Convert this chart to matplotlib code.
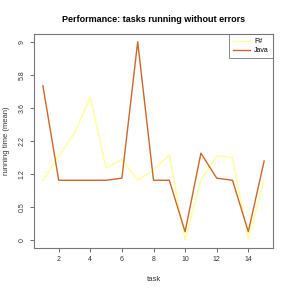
import matplotlib
matplotlib.use('Agg')
import matplotlib.pyplot as plt
import numpy as np

plt.rcParams['font.family'] = ['Liberation Sans', 'DejaVu Sans']

# Data (mean running time per task)
tasks = list(range(1, 16))
fsharp = [1.0, 1.65, 2.45, 4.25, 1.30, 1.55, 1.0, 1.25, 1.69, 0.0, 1.0, 1.66, 1.60, 0.01, 1.0]
java = [5.0, 1.0, 1.0, 1.0, 1.0, 1.05, 9.0, 1.0, 1.0, 0.10, 1.74, 1.05, 1.0, 0.10, 1.5]
ytick_labels = ['0', '0.5', '1.2', '2.2', '3.6', '5.8', '9']
xticks = [2, 4, 6, 8, 10, 12, 14]

fig = plt.figure(figsize=(2.91, 2.91), dpi=100)
ax = fig.add_axes([0.117, 0.148, 0.821, 0.735])

# y axis on a log(1 + x) scale, as in the original
ax.set_yscale('function', functions=(np.log1p, np.expm1))
ax.plot(tasks, fsharp, color='#FFFF99', lw=1.0, label='F#')
ax.plot(tasks, java, color='#CC6629', lw=1.0, label='Java')

ax.set_xlim(0.44, 15.56)
ax.set_ylim(np.expm1(-0.093), np.expm1(2.392))
ax.set_xticks(xticks)
ax.set_xticklabels([str(t) for t in xticks], fontsize=5)
ax.set_yticks(np.expm1(np.linspace(0, np.log(10), 7)))
ax.set_yticklabels(ytick_labels, fontsize=5, rotation=90, va='center')
ax.minorticks_off()
ax.tick_params(length=3, width=0.6, color='#555555', labelcolor='#333333', pad=3)
for s in ax.spines.values():
    s.set_color('#777777')
    s.set_linewidth(0.8)

ax.set_xlabel('task', fontsize=5.5, color='#333333', labelpad=9)
ax.set_ylabel('running time (mean)', fontsize=5.5, color='#333333', labelpad=6)
ax.set_title('Performance: tasks running without errors', fontsize=6.5,
             fontweight='bold', pad=9)

leg = ax.legend(loc='upper right', fontsize=5, frameon=True, fancybox=False,
                borderaxespad=0, handlelength=2.4, handletextpad=0.6,
                borderpad=0.6, labelspacing=0.3)
leg.get_frame().set_edgecolor('#555555')
leg.get_frame().set_linewidth(0.6)

plt.savefig('out.png', dpi=100)
